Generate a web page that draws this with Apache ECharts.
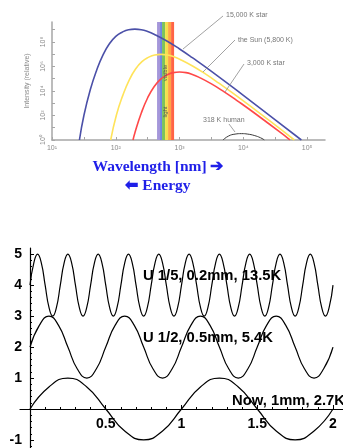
<!DOCTYPE html>
<html>
<head>
<meta charset="utf-8">
<script src="https://cdn.jsdelivr.net/npm/echarts@6/dist/echarts.min.js"></script>
<style>
  html, body { margin: 0; padding: 0; background: #fff; }
  #chart { width: 343px; height: 448px; }
</style>
</head>
<body>
<div id="chart"></div>
<script>
// top panel: log10(wavelength in nm) vs log10(relative intensity)
var star15000 = [[1.43,0],[1.5,2.0],[1.6,4.1],[1.7,5.7],[1.8,6.95],[1.9,7.85],[2.0,8.45],[2.1,8.8],[2.2,9.0],[2.3,9.05],
  [2.4,9.0],[2.5,8.85],[2.6,8.63],[2.8,8.08],[3.0,7.43],[3.2,6.72],[3.5,5.6],[4.0,3.64],[4.5,1.65],[4.91,0]];
var sun5800 = [[1.92,0],[2.01,2.04],[2.11,3.64],[2.21,4.89],[2.31,5.79],[2.41,6.39],[2.51,6.74],[2.61,6.94],[2.71,6.99],
  [2.81,6.94],[2.91,6.79],[3.01,6.57],[3.21,6.02],[3.41,5.37],[3.61,4.66],[3.91,3.54],[4.41,1.58],[4.8,0]];
var star3000 = [[2.27,0],[2.30,0.6],[2.40,2.2],[2.50,3.45],[2.60,4.35],[2.70,4.95],[2.80,5.3],[2.90,5.5],[3.00,5.55],
  [3.10,5.5],[3.20,5.35],[3.30,5.13],[3.50,4.58],[3.70,3.93],[3.90,3.22],[4.20,2.1],[4.70,0.14],[4.73,0]];
var human318 = [[3.68,0],[3.77,0.33],[3.87,0.48],[3.97,0.52],[4.07,0.48],[4.17,0.37],[4.27,0.18],[4.33,0]];
var visibleEdges = [2.647, 2.694, 2.725, 2.773, 2.82, 2.867, 2.914];
var visibleColors = ['#a597da', '#6f86e0', '#7cc35c', '#f3e04e', '#ffa445', '#ff6445'];
var wlTicks = [1, 1.5, 2, 2.5, 3, 3.5, 4, 4.5, 5];
var wlLabels = [1, 2, 3, 4, 5];
var intTicks = [0, 1, 2, 3, 4, 5, 6, 7, 8, 9];
var intLabels = [0, 2, 4, 6, 8];

// bottom panel: three waves
var waveNow = [[0,0],[0.125,0.71],[0.25,1],[0.375,0.71],[0.5,0],[0.625,-0.71],[0.75,-1],[0.875,-0.71],
  [1,0],[1.125,0.71],[1.25,1],[1.375,0.71],[1.5,0],[1.625,-0.71],[1.75,-1],[1.875,-0.71],[2,0]];
var waveHalf = [
  [0,2],[0.0625,2.71],[0.125,3],[0.1875,2.71],[0.25,2],[0.3125,1.29],[0.375,1],[0.4375,1.29],
  [0.5,2],[0.5625,2.71],[0.625,3],[0.6875,2.71],[0.75,2],[0.8125,1.29],[0.875,1],[0.9375,1.29],
  [1,2],[1.0625,2.71],[1.125,3],[1.1875,2.71],[1.25,2],[1.3125,1.29],[1.375,1],[1.4375,1.29],
  [1.5,2],[1.5625,2.71],[1.625,3],[1.6875,2.71],[1.75,2],[1.8125,1.29],[1.875,1],[1.9375,1.29],
  [2,2]];
var waveFifth = [
  [0,4],[0.025,4.71],[0.05,5],[0.075,4.71],[0.1,4],[0.125,3.29],[0.15,3],[0.175,3.29],
  [0.2,4],[0.225,4.71],[0.25,5],[0.275,4.71],[0.3,4],[0.325,3.29],[0.35,3],[0.375,3.29],
  [0.4,4],[0.425,4.71],[0.45,5],[0.475,4.71],[0.5,4],[0.525,3.29],[0.55,3],[0.575,3.29],
  [0.6,4],[0.625,4.71],[0.65,5],[0.675,4.71],[0.7,4],[0.725,3.29],[0.75,3],[0.775,3.29],
  [0.8,4],[0.825,4.71],[0.85,5],[0.875,4.71],[0.9,4],[0.925,3.29],[0.95,3],[0.975,3.29],
  [1.0,4],[1.025,4.71],[1.05,5],[1.075,4.71],[1.1,4],[1.125,3.29],[1.15,3],[1.175,3.29],
  [1.2,4],[1.225,4.71],[1.25,5],[1.275,4.71],[1.3,4],[1.325,3.29],[1.35,3],[1.375,3.29],
  [1.4,4],[1.425,4.71],[1.45,5],[1.475,4.71],[1.5,4],[1.525,3.29],[1.55,3],[1.575,3.29],
  [1.6,4],[1.625,4.71],[1.65,5],[1.675,4.71],[1.7,4],[1.725,3.29],[1.75,3],[1.775,3.29],
  [1.8,4],[1.825,4.71],[1.85,5],[1.875,4.71],[1.9,4],[1.925,3.29],[1.95,3],[1.975,3.29],
  [2.0,4]];
var xMajor = [0.5, 1, 1.5, 2];
var xMinor = [0.1,0.2,0.3,0.4,0.6,0.7,0.8,0.9,1.1,1.2,1.3,1.4,1.6,1.7,1.8,1.9];
var yMajor = [-1, 1, 2, 3, 4, 5];
var yMinor = [-1.2,-0.8,-0.6,-0.4,-0.2,0.2,0.4,0.6,0.8,1.2,1.4,1.6,1.8,2.2,2.4,2.6,2.8,
  3.2,3.4,3.6,3.8,4.2,4.4,4.6,4.8];

var sup = {'0':'\u2070','1':'\u00b9','2':'\u00b2','3':'\u00b3','4':'\u2074','5':'\u2075',
  '6':'\u2076','7':'\u2077','8':'\u2078','9':'\u2079'};
function pow10(v) { return '10' + String(Math.round(v)).split('').map(function (c) { return sup[c]; }).join(''); }

var gray = '#a6a6a6';
var smallFont = 'Liberation Sans, Arial, sans-serif';
var boldFont = 'Liberation Sans, Arial, sans-serif';
var serifFont = 'Liberation Serif, Times New Roman, serif';

var bands = [];
for (var i = 0; i < visibleColors.length; i++) {
  bands.push([{ xAxis: visibleEdges[i], itemStyle: { color: visibleColors[i] } }, { xAxis: visibleEdges[i + 1] }]);
}

// bottom panel: x = 0 sits 10px right of the grid's left edge, y = 0 sits 39px above its bottom edge
var xRange = { min: -0.066, max: 2.066 };
var yRange = { min: -1.26, max: 5.2 };

var chart = echarts.init(document.getElementById('chart'));
var option = {
  animation: false,
  grid: [
    { left: 52, top: 22, width: 273, height: 118 },
    { left: 20, top: 248, width: 323, height: 200 }
  ],
  xAxis: [
    {
      gridIndex: 0, type: 'value', min: 1, max: 5.28,
      axisLine: { lineStyle: { color: gray, width: 1.5 } },
      axisTick: { customValues: wlTicks, inside: true, length: 3, lineStyle: { color: gray } },
      axisLabel: { customValues: wlLabels, formatter: pow10, fontSize: 7, color: '#8a8a8a', margin: 5, fontFamily: smallFont },
      splitLine: { show: false }
    },
    {
      gridIndex: 1, type: 'value', min: xRange.min, max: xRange.max, position: 'bottom', offset: -39,
      axisLine: { onZero: false, lineStyle: { color: '#000', width: 1.2 } },
      axisTick: { customValues: xMajor, inside: true, length: 4, lineStyle: { color: '#000' } },
      axisLabel: { customValues: xMajor, fontSize: 14, fontWeight: 'bold', color: '#000', margin: 8, fontFamily: boldFont },
      splitLine: { show: false }
    },
    {
      gridIndex: 1, type: 'value', min: xRange.min, max: xRange.max, position: 'bottom', offset: -39,
      axisLine: { show: false, onZero: false },
      axisTick: { customValues: xMinor, inside: true, length: 2, lineStyle: { color: '#000' } },
      axisLabel: { show: false },
      splitLine: { show: false }
    }
  ],
  yAxis: [
    {
      gridIndex: 0, type: 'value', min: 0, max: 9.63,
      name: 'Intensity (relative)', nameLocation: 'middle', nameGap: 21,
      nameTextStyle: { fontSize: 7, color: '#8a8a8a', fontFamily: smallFont },
      axisLine: { lineStyle: { color: gray, width: 1.5 } },
      axisTick: { customValues: intTicks, inside: true, length: 3, lineStyle: { color: gray } },
      axisLabel: { customValues: intLabels, formatter: pow10, rotate: 90, fontSize: 7, color: '#8a8a8a', margin: 5, fontFamily: smallFont },
      splitLine: { show: false }
    },
    {
      gridIndex: 1, type: 'value', min: yRange.min, max: yRange.max, position: 'left', offset: -10,
      axisLine: { onZero: false, lineStyle: { color: '#000', width: 1.2 } },
      axisTick: { customValues: yMajor, inside: true, length: 4, lineStyle: { color: '#000' } },
      axisLabel: { customValues: yMajor, fontSize: 14, fontWeight: 'bold', color: '#000', margin: 8, fontFamily: boldFont },
      splitLine: { show: false }
    },
    {
      gridIndex: 1, type: 'value', min: yRange.min, max: yRange.max, position: 'left', offset: -10,
      axisLine: { show: false, onZero: false },
      axisTick: { customValues: yMinor, inside: true, length: 2, lineStyle: { color: '#000' } },
      axisLabel: { show: false },
      splitLine: { show: false }
    }
  ],
  series: [
    {
      type: 'line', xAxisIndex: 0, yAxisIndex: 0, data: [], z: 1,
      markArea: { silent: true, data: bands }
    },
    { type: 'line', xAxisIndex: 0, yAxisIndex: 0, data: star15000, smooth: true, symbol: 'none', z: 3,
      lineStyle: { color: '#4b50a8', width: 1.6 } },
    { type: 'line', xAxisIndex: 0, yAxisIndex: 0, data: sun5800, smooth: true, symbol: 'none', z: 3,
      lineStyle: { color: '#ffe35a', width: 1.6 } },
    { type: 'line', xAxisIndex: 0, yAxisIndex: 0, data: star3000, smooth: true, symbol: 'none', z: 3,
      lineStyle: { color: '#ff4848', width: 1.6 } },
    { type: 'line', xAxisIndex: 0, yAxisIndex: 0, data: human318, smooth: true, symbol: 'none', z: 3,
      lineStyle: { color: '#3a3a3a', width: 1 } },
    { type: 'line', xAxisIndex: 1, yAxisIndex: 1, data: waveFifth, smooth: true, symbol: 'none',
      lineStyle: { color: '#000', width: 1.2 } },
    { type: 'line', xAxisIndex: 1, yAxisIndex: 1, data: waveHalf, smooth: true, symbol: 'none',
      lineStyle: { color: '#000', width: 1.2 } },
    { type: 'line', xAxisIndex: 1, yAxisIndex: 1, data: waveNow, smooth: true, symbol: 'none',
      lineStyle: { color: '#000', width: 1.2 } }
  ],
  graphic: [
    // leader lines and notes of the top panel
    { type: 'line', shape: { x1: 223, y1: 16, x2: 183, y2: 49 }, style: { stroke: '#8a8a8a', lineWidth: 0.8 }, z: 10 },
    { type: 'text', x: 226, y: 15, style: { text: '15,000 K star', font: '7px ' + smallFont, fill: '#777', textVerticalAlign: 'middle' }, z: 10 },
    { type: 'line', shape: { x1: 235, y1: 40, x2: 203, y2: 72 }, style: { stroke: '#8a8a8a', lineWidth: 0.8 }, z: 10 },
    { type: 'text', x: 238, y: 40, style: { text: 'the Sun (5,800 K)', font: '7px ' + smallFont, fill: '#777', textVerticalAlign: 'middle' }, z: 10 },
    { type: 'line', shape: { x1: 244, y1: 64, x2: 225, y2: 92 }, style: { stroke: '#8a8a8a', lineWidth: 0.8 }, z: 10 },
    { type: 'text', x: 247, y: 63, style: { text: '3,000 K star', font: '7px ' + smallFont, fill: '#777', textVerticalAlign: 'middle' }, z: 10 },
    { type: 'line', shape: { x1: 229, y1: 124, x2: 235, y2: 132 }, style: { stroke: '#8a8a8a', lineWidth: 0.8 }, z: 10 },
    { type: 'text', x: 203, y: 120, style: { text: '318 K human', font: '7px ' + smallFont, fill: '#777', textVerticalAlign: 'middle' }, z: 10 },
    { type: 'text', x: 165, y: 73, rotation: Math.PI / 2, style: { text: 'visible', font: '6px ' + smallFont, fill: '#555', textAlign: 'center', textVerticalAlign: 'middle' }, z: 10 },
    { type: 'text', x: 165, y: 112, rotation: Math.PI / 2, style: { text: 'light', font: '6px ' + smallFont, fill: '#555', textAlign: 'center', textVerticalAlign: 'middle' }, z: 10 },
    { type: 'text', x: 158, y: 167, style: { text: 'Wavelength [nm] \u2794', font: 'bold 15.5px ' + serifFont, fill: '#1f1fe8', textAlign: 'center', textVerticalAlign: 'middle' }, z: 10 },
    { type: 'text', x: 158, y: 186, style: { text: '\u2B05 Energy', font: 'bold 15.5px ' + serifFont, fill: '#1f1fe8', textAlign: 'center', textVerticalAlign: 'middle' }, z: 10 },
    // wave labels of the bottom panel
    { type: 'text', x: 143, y: 276, style: { text: 'U 1/5, 0.2mm, 13.5K', font: 'bold 14.8px ' + boldFont, fill: '#000', textVerticalAlign: 'middle' }, z: 10 },
    { type: 'text', x: 143, y: 338, style: { text: 'U 1/2, 0.5mm, 5.4K', font: 'bold 14.8px ' + boldFont, fill: '#000', textVerticalAlign: 'middle' }, z: 10 },
    { type: 'text', x: 232, y: 401, style: { text: 'Now, 1mm, 2.7K', font: 'bold 14.8px ' + boldFont, fill: '#000', textVerticalAlign: 'middle' }, z: 10 }
  ]
};
chart.setOption(option);
</script>
</body>
</html>
